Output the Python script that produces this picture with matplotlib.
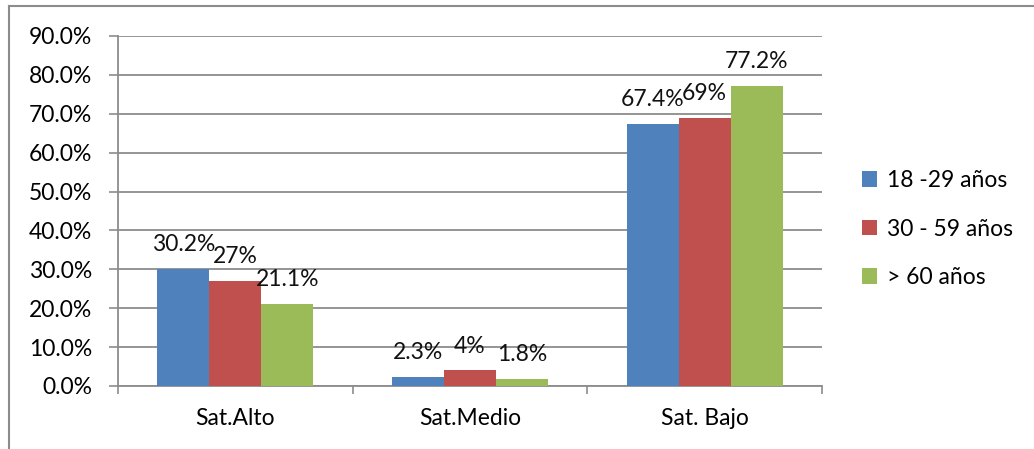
import matplotlib.pyplot as plt
import numpy as np
from matplotlib.lines import Line2D

plt.rcParams['font.family'] = ['Lato', 'DejaVu Sans']

categorias = ['Sat.Alto', 'Sat.Medio', 'Sat. Bajo']
series = ['18 -29 años', '30 - 59 años', '> 60 años']
jovenes = [30.2, 2.3, 67.4]
adultos = [27, 4, 69]
mayores = [21.1, 1.8, 77.2]
etiquetas = [['30.2%', '2.3%', '67.4%'],
             ['27%', '4%', '69%'],
             ['21.1%', '1.8%', '77.2%']]
colores = ['#4F81BD', '#C0504D', '#9BBB59']
gris = '#8c8c8c'
fs = 16.5

fig = plt.figure(figsize=(10.34, 4.49), dpi=100)
ax = fig.add_axes([118/1034, 1-386/449, (822-118)/1034, (386-36)/449])

x = np.arange(len(categorias))
ancho = 52/235
for i, (vals, col) in enumerate(zip([jovenes, adultos, mayores], colores)):
    pos = x + (i - 1)*ancho
    ax.bar(pos, vals, width=ancho, color=col, label=series[i], zorder=3)
    for p, v, t in zip(pos, vals, etiquetas[i]):
        ax.annotate(t, (p, v), xytext=(0, 10), textcoords='offset points',
                    ha='center', va='bottom', fontsize=fs, color='#111111', zorder=4)

ax.set_xlim(-0.5, 2.5)
ax.set_ylim(0, 90)
ax.set_yticks(np.arange(0, 91, 10))
ax.set_yticklabels([f'{v:.1f}%' for v in np.arange(0, 91, 10)], fontsize=fs)
ax.set_xticks(x)
ax.set_xticklabels(categorias, fontsize=fs)
ax.set_xticks([-0.5, 0.5, 1.5, 2.5], minor=True)
ax.tick_params(axis='x', which='major', length=0, pad=16)
ax.tick_params(axis='x', which='minor', length=6, color=gris, width=1.2)
ax.tick_params(axis='y', length=6.5, color=gris, width=1.2, pad=12)
ax.grid(axis='y', color=gris, linewidth=1.3, zorder=0)
for s in ['top', 'right']:
    ax.spines[s].set_visible(False)
for s in ['left', 'bottom']:
    ax.spines[s].set_color(gris)
    ax.spines[s].set_linewidth(1.3)

ax.legend(loc='center left', bbox_to_anchor=(862/1034, 1-229/449), bbox_transform=fig.transFigure,
          frameon=False, fontsize=fs, handlelength=0.65, handleheight=0.65,
          handletextpad=0.45, labelspacing=1.2, borderpad=0, borderaxespad=0)

# marco exterior
fig.add_artist(Line2D([8.5/1034, 8.5/1034], [0, 1-5.5/449], color=gris, lw=1.5, transform=fig.transFigure))
fig.add_artist(Line2D([8.5/1034, 1], [1-5.5/449, 1-5.5/449], color=gris, lw=1.5, transform=fig.transFigure))

fig.savefig('out.png', dpi=100)
